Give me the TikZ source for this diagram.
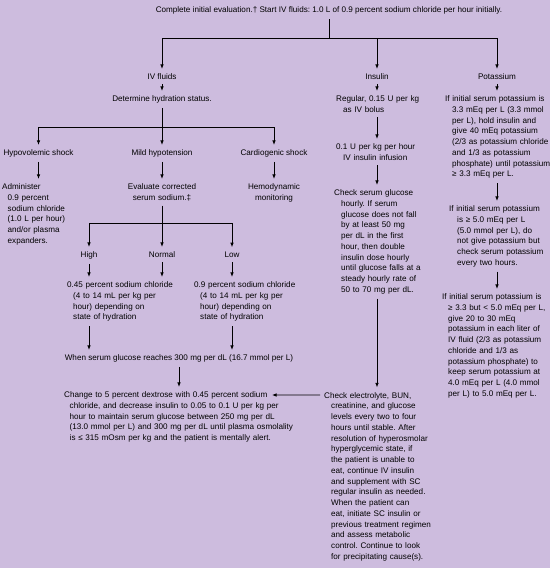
\documentclass[tikz,border=0pt]{standalone}
\usepackage{fontspec}
\setmainfont{Liberation Sans}
\usetikzlibrary{arrows.meta}
\definecolor{bgc}{RGB}{205,188,222}
\newcommand{\Hl}[1]{\\\hspace*{#1bp}}
\frenchspacing
\begin{document}
\begin{tikzpicture}[x=1bp,y=-1bp,
  txt/.style={font=\fontsize{8.15}{10.8}\selectfont\frenchspacing, inner xsep=0pt, inner ysep=4.5bp, anchor=base},
  blk/.style={txt, text width=#1, align=left, anchor=base west},
  cblk/.style={txt, text width=#1, align=center, anchor=base},
  ln/.style={line width=0.8bp, black},
  arr/.style={ln, -{Latex[length=4.5bp,width=3.6bp]}}]
\useasboundingbox (0,0) rectangle (550,568);
\fill[bgc] (0,0) rectangle (550,568);

% top
\node[txt] (top) at (329,13) {Complete initial evaluation.\textdagger{} Start IV fluids: 1.0 L of 0.9 percent sodium chloride per hour initially.};
\coordinate (j1) at (329,38);
\node[txt] (ivf) at (162,79.5) {IV fluids};
\node[txt] (ins) at (377,79.5) {Insulin};
\node[txt] (pot) at (497,79.5) {Potassium};
\draw[ln] (top) -- (j1);
\draw[arr] (j1) -| (ivf);
\draw[arr] (j1) -| (ins);
\draw[arr] (j1) -| (pot);

% IV fluids column
\node[txt] (det) at (162,101.5) {Determine hydration status.};
\draw[arr] (ivf) -- (det);
\coordinate (j2) at (162,127);
\node[txt] (hypo) at (38.5,155.5) {Hypovolemic shock};
\node[txt] (mild) at (162,155.5) {Mild hypotension};
\node[txt] (card) at (274,155.5) {Cardiogenic shock};
\draw[ln] (det) -- (j2);
\draw[arr] (j2) -| (hypo);
\draw[arr] (j2) -- (mild);
\draw[arr] (j2) -| (card);

\node[blk=80bp] (adm) at (2,189.5) {Administer\Hl{5.5}0.9 percent\Hl{5.5}sodium chloride\Hl{5.5}(1.0 L per hour)\Hl{5.5}and/or plasma\Hl{5.5}expanders.};
\node[cblk=90bp] (eval) at (162,189.5) {Evaluate corrected\\serum sodium.\textdaggerdbl};
\node[cblk=80bp] (hemo) at (274,189.5) {Hemodynamic\\monitoring};
\draw[arr] (hypo) -- (hypo |- adm.north);
\draw[arr] (mild) -- (eval);
\draw[arr] (card) -- (hemo);

\coordinate (j3) at (162,223);
\draw[ln] (eval) -- (j3);
\node[txt] (high) at (89,257.5) {High};
\node[txt] (norm) at (162,257.5) {Normal};
\node[txt] (low) at (232,257.5) {Low};
\draw[arr] (j3) -| (high);
\draw[arr] (j3) -- (norm);
\draw[arr] (j3) -| (low);

\node[blk=110bp] (na45) at (67,287.5) {0.45 percent sodium chloride\Hl{6}(4 to 14 mL per kg per\Hl{6}hour) depending on\Hl{6}state of hydration};
\node[blk=110bp] (na9) at (194,287.5) {0.9 percent sodium chloride\Hl{6}(4 to 14 mL per kg per\Hl{6}hour) depending on\Hl{6}state of hydration};
\draw[arr] (high) -- (high |- na45.north);
\draw[arr] (norm) -- (norm |- na45.north);
\draw[arr] (low) -- (low |- na9.north);

\node[txt] (when) at (179,360.5) {When serum glucose reaches 300 mg per dL (16.7 mmol per L)};
\draw[arr] (high |- na45.south) -- (high |- when.north);
\draw[arr] (low |- na9.south) -- (low |- when.north);

\node[blk=230bp] (chg) at (64,397.5) {Change to 5 percent dextrose with 0.45 percent sodium\Hl{5.5}chloride, and decrease insulin to 0.05 to 0.1 U per kg per\Hl{5.5}hour to maintain serum glucose between 250 mg per dL\Hl{5.5}(13.0 mmol per L) and 300 mg per dL until plasma osmolality\Hl{5.5}is ≤ 315 mOsm per kg and the patient is mentally alert.};
\draw[arr] (when) -- (when |- chg.north);

% Insulin column
\node[blk=95bp] (reg) at (336,101.5) {Regular, 0.15 U per kg\Hl{7}as IV bolus};
\node[blk=95bp] (inf) at (336,149.5) {0.1 U per kg per hour\Hl{7}IV insulin infusion};
\node[blk=100bp] (chkg) at (334,195.5) {Check serum glucose\Hl{7}hourly. If serum\Hl{7}glucose does not fall\Hl{7}by at least 50 mg\Hl{7}per dL in the first\Hl{7}hour, then double\Hl{7}insulin dose hourly\Hl{7}until glucose falls at a\Hl{7}steady hourly rate of\Hl{7}50 to 70 mg per dL.};
\node[blk=110bp] (chke) at (324,398) {Check electrolyte, BUN,\Hl{7}creatinine, and glucose\Hl{7}levels every two to four\Hl{7}hours until stable. After\Hl{7}resolution of hyperosmolar\Hl{7}hyperglycemic state, if\Hl{7}the patient is unable to\Hl{7}eat, continue IV insulin\Hl{7}and supplement with SC\Hl{7}regular insulin as needed.\Hl{7}When the patient can\Hl{7}eat, initiate SC insulin or\Hl{7}previous treatment regimen\Hl{7}and assess metabolic\Hl{7}control. Continue to look\Hl{7}for precipitating cause(s).};
\draw[arr] (ins) -- (ins |- reg.north);
\draw[arr] (ins |- reg.south) -- (ins |- inf.north);
\draw[arr] (ins |- inf.south) -- (ins |- chkg.north);
\draw[arr] (ins |- chkg.south) -- (ins |- chke.north);
\coordinate (chgr) at (272,395);
\draw[arr] ([xshift=-4bp,yshift=3bp]chke.base west) -- (chgr);

% Potassium column
\node[blk=105bp] (k1) at (445,101.5) {If initial serum potassium is\Hl{7}3.3 mEq per L (3.3 mmol\Hl{7}per L), hold insulin and\Hl{7}give 40 mEq potassium\Hl{7}(2/3 as potassium chloride\Hl{7}and 1/3 as potassium\Hl{7}phosphate) until potassium\Hl{7}≥ 3.3 mEq per L.};
\node[blk=100bp] (k2) at (449,211.5) {If initial serum potassium\Hl{8}is ≥ 5.0 mEq per L\Hl{8}(5.0 mmol per L), do\Hl{8}not give potassium but\Hl{8}check serum potassium\Hl{8}every two hours.};
\node[blk=105bp] (k3) at (442,299.5) {If initial serum potassium is\Hl{6}≥ 3.3 but < 5.0 mEq per L,\Hl{6}give 20 to 30 mEq\Hl{6}potassium in each liter of\Hl{6}IV fluid (2/3 as potassium\Hl{6}chloride and 1/3 as\Hl{6}potassium phosphate) to\Hl{6}keep serum potassium at\Hl{6}4.0 mEq per L (4.0 mmol\Hl{6}per L) to 5.0 mEq per L.};
\draw[arr] (pot) -- (pot |- k1.north);
\draw[arr] (pot |- k1.south) -- (pot |- k2.north);
\draw[arr] (pot |- k2.south) -- (pot |- k3.north);
\end{tikzpicture}
\end{document}
